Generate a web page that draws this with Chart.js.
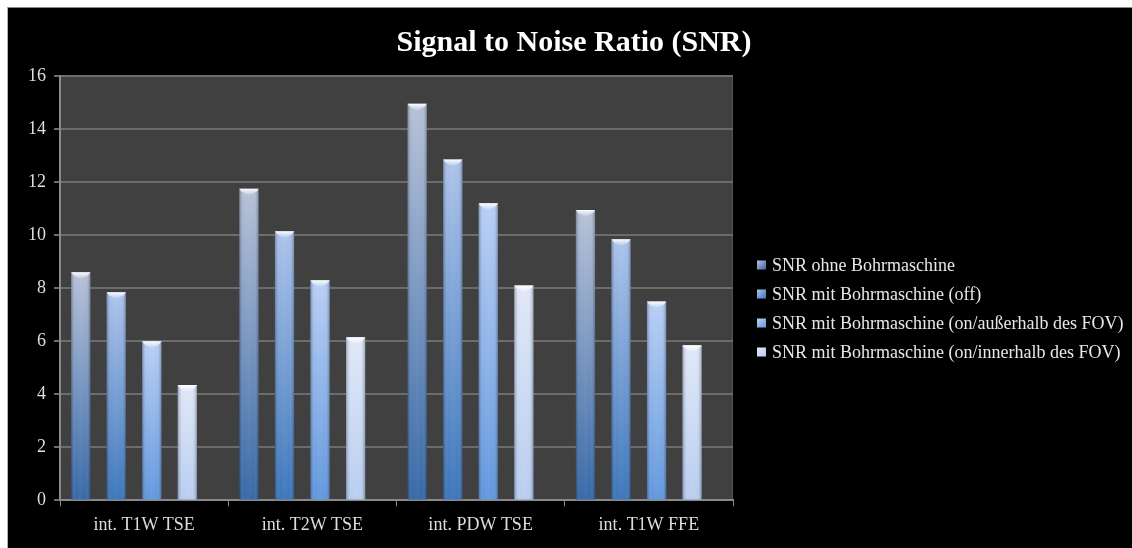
<!DOCTYPE html>
<html lang="de">
<head>
    <meta charset="UTF-8">
    <title>Signal to Noise Ratio (SNR)</title>
    <script src="https://cdn.jsdelivr.net/npm/chart.js"></script>
    <style>
        body {
            margin: 0;
            background: #fff;
        }
        #chartContainer {
            position: absolute;
            left: 7px;
            top: 7px;
            width: 1124px;
            height: 540px;
            background: #000;
            border-top: 1px solid #8a8a8a;
            border-left: 1px solid #b0b0b0;
        }
    </style>
</head>
<body>
    <div id="chartContainer">
        <canvas id="snrChart"></canvas>
    </div>

    <script>
        // Sequenzen und SNR-Werte
        var sequences = ['int. T1W TSE', 'int. T2W TSE', 'int. PDW TSE', 'int. T1W FFE'];
        var snrOhne = [8.6, 11.75, 14.95, 10.95];
        var snrOff = [7.85, 10.15, 12.85, 9.85];
        var snrOnAusserhalb = [6.0, 8.3, 11.2, 7.5];
        var snrOnInnerhalb = [4.35, 6.15, 8.1, 5.85];
        var yTicks = [0, 2, 4, 6, 8, 10, 12, 14, 16];

        var serif = "'Liberation Serif', 'Times New Roman', serif";

        // top / bottom / legend colour per series
        var seriesColors = [
            ['#b4bfd6', '#2e62a4', '#5a82bd'],
            ['#a9c1ea', '#3470b8', '#5f90d6'],
            ['#b6cdf4', '#5b93dc', '#83acea'],
            ['#dfe7f7', '#b5cbef', '#c8d8f4']
        ];

        // vertical gradient over the height of each single bar
        function barFill(c) {
            return function (context) {
                var chart = context.chart;
                if (!chart.chartArea || context.type !== 'data') return c[2];
                var y = chart.scales.y;
                var y0 = y.getPixelForValue(0);
                var y1 = y.getPixelForValue(context.parsed.y);
                var g = chart.ctx.createLinearGradient(0, y1, 0, y0);
                g.addColorStop(0, c[0]);
                g.addColorStop(1, c[1]);
                return g;
            };
        }

        // dark grey plot background
        var plotBackground = {
            id: 'plotBackground',
            beforeDraw: function (chart) {
                var a = chart.chartArea;
                var ctx = chart.ctx;
                ctx.save();
                ctx.fillStyle = '#404040';
                ctx.fillRect(a.left, a.top, a.right - a.left, a.bottom - a.top);
                ctx.fillStyle = '#555';
                ctx.fillRect(a.right - 1, a.top, 1, a.bottom - a.top);
                ctx.restore();
            }
        };

        // bar groups sit a bit left of the category centre
        var groupShift = {
            id: 'groupShift',
            afterDatasetsUpdate: function (chart) {
                var x = chart.scales.x;
                var shift = 0.06 * (x.width / chart.data.labels.length);
                chart.data.datasets.forEach(function (ds, i) {
                    chart.getDatasetMeta(i).data.forEach(function (bar) {
                        bar.x -= shift;
                    });
                });
            }
        };

        // cylinder shading on the sides and a bright cap on top of each bar
        var barShine = {
            id: 'barShine',
            afterDatasetsDraw: function (chart) {
                var ctx = chart.ctx;
                chart.data.datasets.forEach(function (ds, i) {
                    chart.getDatasetMeta(i).data.forEach(function (bar) {
                        var l = bar.x - bar.width / 2;
                        var r = bar.x + bar.width / 2;
                        var t = bar.y;
                        var b = bar.base;
                        ctx.save();
                        var side = ctx.createLinearGradient(l, 0, r, 0);
                        side.addColorStop(0, 'rgba(20,30,50,0.35)');
                        side.addColorStop(0.25, 'rgba(255,255,255,0.04)');
                        side.addColorStop(0.5, 'rgba(255,255,255,0.08)');
                        side.addColorStop(0.75, 'rgba(255,255,255,0.04)');
                        side.addColorStop(1, 'rgba(20,30,50,0.35)');
                        ctx.fillStyle = side;
                        ctx.fillRect(l, t, r - l, b - t);

                        var cap = ctx.createLinearGradient(0, t, 0, t + 7);
                        cap.addColorStop(0, 'rgba(255,255,255,0.95)');
                        cap.addColorStop(1, 'rgba(255,255,255,0)');
                        ctx.fillStyle = cap;
                        ctx.beginPath();
                        ctx.moveTo(l, t);
                        ctx.lineTo(r, t);
                        ctx.lineTo(r - 2, t + 3);
                        ctx.lineTo(bar.x, t + 7);
                        ctx.lineTo(l + 2, t + 3);
                        ctx.closePath();
                        ctx.fill();
                        ctx.restore();
                    });
                });
            }
        };

        // legend to the right of the plot, drawn on the canvas
        var sideLegend = {
            id: 'sideLegend',
            afterDraw: function (chart) {
                var ctx = chart.ctx;
                var a = chart.chartArea;
                var sets = chart.data.datasets;
                var rowH = 29;
                var boxX = a.right + 24;
                var centerY = (a.top + chart.height) / 2 - 2;
                var y = centerY - (sets.length - 1) * rowH / 2;
                ctx.save();
                ctx.font = '18px ' + serif;
                ctx.textBaseline = 'middle';
                sets.forEach(function (ds, i) {
                    var c = seriesColors[i];
                    var g = ctx.createLinearGradient(boxX, y - 5, boxX + 9, y + 4);
                    g.addColorStop(0, c[0]);
                    g.addColorStop(1, c[1]);
                    ctx.fillStyle = g;
                    ctx.fillRect(boxX, y - 6, 9, 9);
                    ctx.fillStyle = '#e8e8e8';
                    ctx.fillText(ds.label, boxX + 15, y);
                    y += rowH;
                });
                ctx.restore();
            }
        };

        var ctx = document.getElementById('snrChart').getContext('2d');
        var snrChart = new Chart(ctx, {
            type: 'bar',
            data: {
                labels: sequences,
                datasets: [
                    {
                        label: 'SNR ohne Bohrmaschine',
                        data: snrOhne,
                        backgroundColor: barFill(seriesColors[0])
                    },
                    {
                        label: 'SNR mit Bohrmaschine (off)',
                        data: snrOff,
                        backgroundColor: barFill(seriesColors[1])
                    },
                    {
                        label: 'SNR mit Bohrmaschine (on/außerhalb des FOV)',
                        data: snrOnAusserhalb,
                        backgroundColor: barFill(seriesColors[2])
                    },
                    {
                        label: 'SNR mit Bohrmaschine (on/innerhalb des FOV)',
                        data: snrOnInnerhalb,
                        backgroundColor: barFill(seriesColors[3])
                    }
                ]
            },
            options: {
                responsive: true,
                maintainAspectRatio: false,
                animation: false,
                categoryPercentage: 0.845,
                barPercentage: 0.54,
                layout: {
                    padding: { left: 8, right: 0, top: 0, bottom: 4 }
                },
                plugins: {
                    title: {
                        display: true,
                        text: 'Signal to Noise Ratio (SNR)',
                        color: '#ffffff',
                        font: { family: serif, size: 30, weight: 'bold' },
                        padding: { top: 17, bottom: 15 }
                    },
                    legend: { display: false },
                    tooltip: { enabled: false }
                },
                scales: {
                    x: {
                        grid: {
                            display: true,
                            drawOnChartArea: false,
                            color: '#8a8a8a',
                            tickLength: 6
                        },
                        border: { color: '#8a8a8a', width: 2 },
                        ticks: {
                            color: '#dddddd',
                            font: { family: serif, size: 18 },
                            padding: 8
                        }
                    },
                    y: {
                        min: 0,
                        max: 16,
                        afterBuildTicks: function (axis) {
                            axis.ticks = yTicks.map(function (v) { return { value: v }; });
                        },
                        afterFit: function (axis) {
                            axis.width = 44;
                        },
                        grid: {
                            color: '#6c6c6c',
                            lineWidth: 2,
                            tickLength: 6
                        },
                        border: { color: '#8a8a8a', width: 2 },
                        ticks: {
                            color: '#dddddd',
                            font: { family: serif, size: 18 },
                            padding: 8
                        }
                    },
                    // empty axis that keeps room for the legend on the right
                    legendSpace: {
                        type: 'linear',
                        position: 'right',
                        grid: { display: false, drawTicks: false },
                        border: { display: false },
                        ticks: { display: false },
                        afterFit: function (axis) {
                            axis.width = 399;
                        }
                    }
                }
            },
            plugins: [plotBackground, groupShift, barShine, sideLegend]
        });
    </script>
</body>
</html>
